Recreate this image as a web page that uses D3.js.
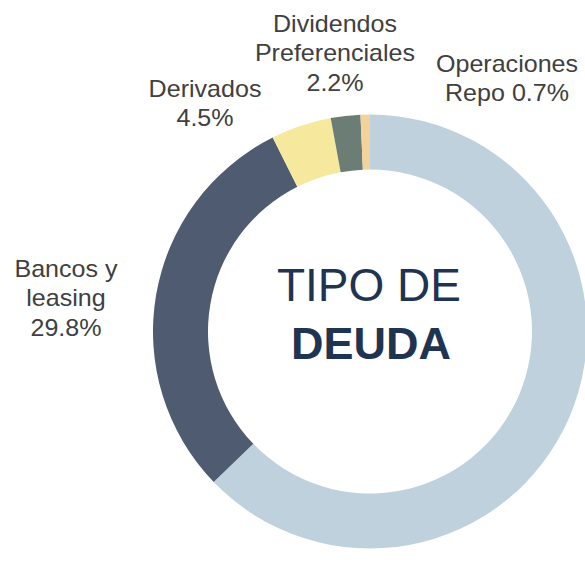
<!DOCTYPE html>
<html>
<head>
<meta charset="utf-8">
<script src="https://cdn.jsdelivr.net/npm/d3@7/dist/d3.min.js"></script>
<style>
  html, body { margin: 0; padding: 0; background: #ffffff; }
  svg { display: block; }
</style>
</head>
<body>
<svg id="chart" width="585" height="569"></svg>
<script>
// ---- data ----
const categories = ["Otros", "Bancos y leasing", "Derivados", "Dividendos Preferenciales", "Operaciones Repo"];
const values = [62.8, 29.8, 4.5, 2.2, 0.7];
const colors = ["#BFD1DC", "#4F5B71", "#F6E89C", "#6B7D75", "#F3D29B"];
// label lines (null = no label)
const labelLines = [
  null,
  ["Bancos y", "leasing", "29.8%"],
  ["Derivados", "4.5%"],
  ["Dividendos", "Preferenciales", "2.2%"],
  ["Operaciones", "Repo 0.7%"]
];
// label anchor (center x, first baseline y) – layout only
const labelPos = [null, [66, 277], [205, 97], [335, 32], [507, 72]];
const titleLines = ["TIPO DE", "DEUDA"];

// ---- layout ----
const cx = 370, cy = 331.5, outerR = 217, innerR = 162;
const svg = d3.select("#chart");
const g = svg.append("g").attr("transform", `translate(${cx},${cy})`);

const pie = d3.pie().sort(null).value(d => d)
  .startAngle(0).endAngle(2 * Math.PI);
const arc = d3.arc().innerRadius(innerR).outerRadius(outerR);

const arcs = pie(values);
g.selectAll("path.slice")
  .data(arcs)
  .enter().append("path")
  .attr("class", "slice")
  .attr("d", arc)
  .attr("fill", (d, i) => colors[i]);

// center title
const title = g.append("text")
  .attr("text-anchor", "middle")
  .attr("font-family", "Liberation Sans, Arial, sans-serif")
  .attr("fill", "#1F3451");
title.append("tspan").attr("x", -1).attr("y", -31).attr("font-size", 46).text(titleLines[0]);
title.append("tspan").attr("x", 1).attr("y", 27.5).attr("font-size", 45).attr("font-weight", "bold").text(titleLines[1]);

// labels
labelLines.forEach((lines, i) => {
  if (!lines) return;
  const [lx, ly] = labelPos[i];
  const t = svg.append("text")
    .attr("transform", `translate(${lx},${ly}) scale(1.09,1)`)
    .attr("text-anchor", "middle")
    .attr("font-family", "Liberation Sans, Arial, sans-serif")
    .attr("font-size", 23)
    .attr("fill", "#404040");
  lines.forEach((s, k) => {
    t.append("tspan").attr("x", 0).attr("y", k * 29.5).text(s);
  });
});
</script>
</body>
</html>
